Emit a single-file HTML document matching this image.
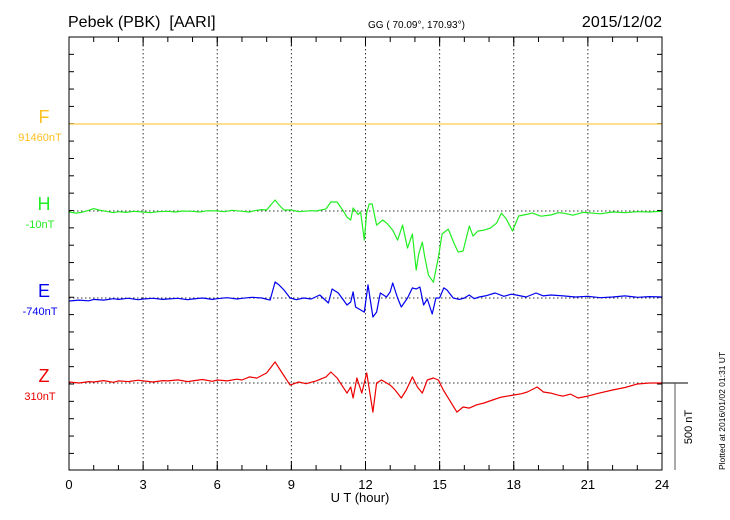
<!DOCTYPE html>
<html><head><meta charset="utf-8"><style>
body{margin:0;background:#fff;}
svg{display:block;font-family:"Liberation Sans",sans-serif;}
</style></head><body>
<svg id="chart" width="730" height="520">
<text x="68" y="27" font-size="16" style="white-space:pre">Pebek (PBK)  [AARI]</text>
<text x="368" y="28" font-size="10">GG ( 70.09°, 170.93°)</text>
<text x="662" y="27" font-size="16" text-anchor="end">2015/12/02</text>
<g id="grid"></g>
<g id="series"></g>
<rect x="69" y="37" width="593" height="433" fill="none" stroke="#000" stroke-width="1"/>
<text x="360" y="502" font-size="13" text-anchor="middle">U T (hour)</text>
<line x1="662" y1="383" x2="688" y2="383" stroke="#000"/>
<line x1="675" y1="383" x2="675" y2="470" stroke="#555"/>
<text transform="translate(692,427) rotate(-90)" font-size="11" text-anchor="middle">500 nT</text>
<text transform="translate(725,470) rotate(-90)" font-size="8.5">Plotted at 2016/01/02 01:31  UT</text>
</svg>
<script>
const xTicks=[0,3,6,9,12,15,18,21,24];
const compNames=['F','H','E','Z'];
const compBaseLabels=['91460nT','-10nT','-740nT','310nT'];
const compColors=['#ffc020','#22ee22','#0000ee','#ee0000'];
const fT=[0,24];
const fV=[0,0];
const hT=[0,0.3,0.5,0.8,1,1.2,1.5,1.8,2,2.3,2.6,3,3.3,3.6,4,4.3,4.6,5,5.3,5.6,6,6.3,6.6,7,7.3,7.5,7.8,8,8.2,8.34,8.5,8.7,9,9.3,9.5,9.8,10,10.4,10.6,10.85,11.1,11.25,11.4,11.5,11.7,11.8,11.95,12.05,12.15,12.27,12.45,12.7,12.9,13.1,13.3,13.5,13.7,13.9,14.05,14.15,14.3,14.4,14.55,14.75,14.95,15.1,15.35,15.6,15.75,15.95,16.2,16.35,16.55,16.8,17.05,17.3,17.5,17.7,17.95,18.2,18.5,18.75,19.1,19.5,19.8,20,20.4,20.8,21,21.5,22,22.5,23,23.5,24];
const hV=[-6,-12,-8,4,14,6,-2,-10,-4,-8,-2,-6,-10,-4,-2,-6,0,-2,-6,2,0,-4,4,-2,-6,2,8,6,40,63,35,6,6,-4,-2,2,0,12,52,52,0,-35,-52,17,-20,-5,-167,-10,40,40,-81,-52,-75,-110,-167,-81,-213,-132,-340,-250,-179,-265,-369,-409,-265,-132,-104,-190,-236,-230,-86,-144,-115,-110,-98,-70,-12,-46,-115,-29,-20,-12,-30,-23,-10,-12,-24,-8,-10,-16,-6,-10,-4,-6,-2];
const eT=[0,0.4,0.8,1,1.4,1.8,2,2.4,2.8,3,3.4,3.8,4,4.4,4.8,5,5.4,5.8,6,6.4,6.8,7,7.4,7.8,8.14,8.34,8.5,8.7,8.95,9.2,9.5,9.8,10.15,10.5,10.65,10.9,11.25,11.4,11.5,11.6,11.95,12.1,12.3,12.45,12.6,12.85,13.0,13.1,13.3,13.45,13.7,13.9,14.05,14.2,14.35,14.5,14.7,14.85,15.0,15.17,15.3,15.55,15.8,16,16.2,16.4,16.6,16.9,17.25,17.6,17.9,18.1,18.5,18.9,19.2,19.5,20,20.5,21,21.5,22,22.5,23,23.5,24];
const eV=[-17,-12,-16,-8,-12,-4,-8,-2,-10,-6,-2,-8,-6,-2,-10,-6,0,-8,-4,2,-6,-2,4,0,-12,92,75,46,0,-10,0,-6,17,-29,52,29,-40,-23,35,-52,-81,75,-109,-81,29,6,35,86,0,-52,0,58,52,63,-40,-6,-92,0,0,58,46,0,-8,0,17,-4,6,14,29,10,22,17,6,29,12,17,12,6,10,2,6,12,4,8,6];
const zT=[0,0.4,0.8,1,1.4,1.8,2,2.4,2.8,3,3.4,3.8,4,4.4,4.8,5,5.4,5.8,6,6.4,6.8,7,7.3,7.6,8.0,8.34,8.6,8.95,9.3,9.6,10,10.4,10.6,10.85,11.25,11.4,11.5,11.65,11.85,12.05,12.3,12.45,12.65,13.0,13.2,13.45,13.65,13.9,14.1,14.3,14.5,14.75,14.95,15.15,15.4,15.7,15.95,16.2,16.5,16.8,17.2,17.5,18.0,18.3,18.55,18.95,19.2,19.5,19.8,20,20.3,20.6,21,21.4,22,22.5,23,23.5,24];
const zV=[6,0,8,6,14,4,12,8,16,12,6,14,12,18,8,12,20,10,17,12,22,17,35,28,58,121,63,-12,6,-4,12,35,63,29,-58,-23,-86,29,-58,58,-167,0,17,-12,-40,-86,-40,35,-23,-58,17,29,17,-40,-98,-167,-138,-144,-125,-115,-95,-81,-69,-62,-52,-23,-52,-58,-70,-75,-64,-86,-75,-60,-40,-26,-6,0,0];
const seriesT=[fT,hT,eT,zT];
const seriesV=[fV,hV,eV,zV];

const X0=69,X1=662,Y0=37,Y1=470;
const baseY=[124,211,298,383];
const pxPerNT=87/500;
function xs(t){return X0+(X1-X0)*t/24;}
function ys(i,v){return baseY[i]-v*pxPerNT;}
const NS='http://www.w3.org/2000/svg';
function mk(tag,attrs,parent){const e=document.createElementNS(NS,tag);for(const k in attrs)e.setAttribute(k,attrs[k]);parent.appendChild(e);return e;}
const grid=document.getElementById('grid');
const ser=document.getElementById('series');
const svg=document.getElementById('chart');
for(let h=0;h<=24;h++){
  const x=xs(h);
  const t1=mk('line',{x1:x,y1:Y0,x2:x,y2:Y0+5,stroke:'#000'},grid);
  
  
  const t2=mk('line',{x1:x,y1:Y1,x2:x,y2:Y1-5,stroke:'#000'},grid);
  
  
}
xTicks.forEach(h=>{
  const x=xs(h);
  if(h>0&&h<24){
    const g=mk('line',{x1:x,y1:Y0,x2:x,y2:Y1,stroke:'#333','stroke-dasharray':'1.5,2.5'},grid);
    
    
    const tk=mk('line',{x1:x,y1:Y0,x2:x,y2:Y0+9,stroke:'#000'},grid);
    
    
    const tb=mk('line',{x1:x,y1:Y1,x2:x,y2:Y1-9,stroke:'#000'},grid);
    
    
  }
  const lb=mk('text',{x:x,y:489,'font-size':13,'text-anchor':'middle'},grid);
  lb.textContent=h;
  
  
});
for(let y=Y0+17.35;y<Y1-1;y+=17.35){
  const a=mk('line',{x1:X0,y1:y,x2:X0+5,y2:y,stroke:'#000'},grid);
  
  
  const b=mk('line',{x1:X1,y1:y,x2:X1-5,y2:y,stroke:'#000'},grid);
  
  
}
compNames.forEach((n,i)=>{
  const bl=mk('line',{x1:X0,y1:baseY[i],x2:X1,y2:baseY[i],stroke:'#333','stroke-dasharray':'1.5,2.5'},grid);
  
  
  const t=mk('text',{x:44,y:baseY[i]-1,'font-size':18,'text-anchor':'middle',fill:compColors[i]},svg);
  t.textContent=n;
  
  
  const b=mk('text',{x:40,y:baseY[i]+17,'font-size':11,'text-anchor':'middle',fill:compColors[i]},svg);
  b.textContent=compBaseLabels[i];
  
  
  const pts=seriesT[i].map((t,k)=>xs(t).toFixed(1)+','+ys(i,seriesV[i][k]).toFixed(1)).join(' ');
  const p=mk('polyline',{points:pts,fill:'none',stroke:compColors[i],'stroke-width':i===0?1:1.2,'stroke-linejoin':'round'},ser);
  
  
});
</script>
</body></html>
